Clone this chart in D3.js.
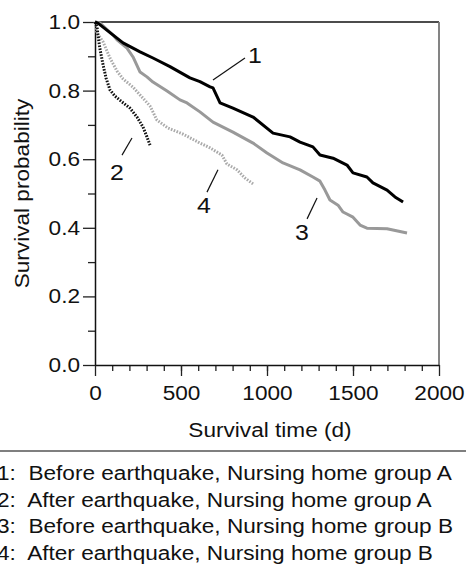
<!DOCTYPE html>
<html>
<head>
<meta charset="utf-8">
<script src="https://cdn.jsdelivr.net/npm/d3@7"></script>
<style>
body { margin: 0; background: #fff; }
svg { display: block; font-family: "Liberation Sans", Arial, sans-serif; }
.legend text { white-space: pre; }
</style>
</head>
<body>
<svg width="466" height="571"></svg>
<script>
// curve 1: before earthquake, group A (black solid)
var days1 = [0, 19, 163, 262, 337, 436, 552, 610, 669, 686, 727, 802, 919, 1035, 1134, 1192, 1267, 1308, 1384, 1465, 1500, 1581, 1616, 1698, 1744, 1791];
var surv1 = [1.0, 0.996, 0.939, 0.913, 0.895, 0.870, 0.837, 0.826, 0.811, 0.808, 0.764, 0.749, 0.723, 0.676, 0.665, 0.650, 0.636, 0.612, 0.603, 0.583, 0.560, 0.548, 0.531, 0.510, 0.490, 0.475];

// curve 2: after earthquake, group A (black dotted)
var days2 = [0, 12, 17, 29, 47, 64, 87, 116, 157, 203, 244, 279, 302, 320];
var surv2 = [1.0, 0.985, 0.962, 0.921, 0.875, 0.837, 0.802, 0.784, 0.767, 0.749, 0.723, 0.694, 0.665, 0.641];

// curve 3: before earthquake, group B (grey solid)
var days3 = [0, 29, 105, 128, 186, 221, 262, 302, 337, 419, 494, 535, 610, 686, 802, 919, 1000, 1093, 1192, 1267, 1308, 1337, 1366, 1413, 1442, 1500, 1541, 1581, 1698, 1814];
var surv3 = [1.0, 0.997, 0.962, 0.948, 0.924, 0.898, 0.854, 0.840, 0.825, 0.799, 0.773, 0.764, 0.738, 0.708, 0.679, 0.647, 0.618, 0.589, 0.569, 0.548, 0.536, 0.510, 0.481, 0.466, 0.446, 0.431, 0.408, 0.399, 0.397, 0.385];

// curve 4: after earthquake, group B (light grey dotted)
var days4 = [0, 12, 47, 87, 128, 163, 221, 279, 320, 360, 424, 512, 599, 669, 738, 767, 826, 872, 919];
var surv4 = [1.0, 0.968, 0.942, 0.895, 0.857, 0.834, 0.810, 0.778, 0.755, 0.714, 0.691, 0.673, 0.650, 0.633, 0.612, 0.586, 0.569, 0.545, 0.528];

var curveNames = ["1", "2", "3", "4"];
var legendLabels = [
  "1:  Before earthquake, Nursing home group A",
  "2:  After earthquake, Nursing home group A",
  "3:  Before earthquake, Nursing home group B",
  "4:  After earthquake, Nursing home group B"
];
var xTicks = [0, 500, 1000, 1500, 2000];
var yTicks = [0, 0.2, 0.4, 0.6, 0.8, 1.0];
var xTitle = "Survival time (d)";
var yTitle = "Survival probability";

// label anchor (days, surv) and leader line ends
var labelAt = [[930, 0.880], [128, 0.539], [1203, 0.364], [634, 0.443]];
var leaderFrom = [[686, 0.831], [157, 0.612], [1233, 0.426], [651, 0.504]];
var leaderTo = [[872, 0.895], [215, 0.662], [1291, 0.487], [715, 0.569]];

var svg = d3.select("svg"),
    plotLeft = 95, plotRight = 439, plotTop = 22, plotBottom = 365,
    stretchK = 1.13;

var x = d3.scaleLinear().domain([0, 2000]).range([plotLeft, plotRight]);
var y = d3.scaleLinear().domain([0, 1]).range([plotBottom, plotTop]);

function stretch(sel) {
  sel.each(function() {
    var len = this.getComputedTextLength();
    d3.select(this).attr("textLength", len * stretchK).attr("lengthAdjust", "spacingAndGlyphs");
  });
}

// frame top / right
svg.append("line").attr("x1", plotLeft).attr("x2", plotRight).attr("y1", plotTop).attr("y2", plotTop)
    .attr("stroke", "#111").attr("stroke-width", 1.5);
svg.append("line").attr("x1", plotRight).attr("x2", plotRight).attr("y1", plotTop).attr("y2", plotBottom)
    .attr("stroke", "#777").attr("stroke-width", 1.8);

// minor ticks
svg.append("g").attr("transform", "translate(0," + plotBottom + ")")
    .call(d3.axisBottom(x).tickValues(d3.range(100, 2000, 100)).tickSize(6).tickSizeOuter(0).tickFormat(""))
    .call(function(g) { g.select(".domain").remove(); });
svg.append("g").attr("transform", "translate(" + plotLeft + ",0)")
    .call(d3.axisLeft(y).tickValues([0.1, 0.3, 0.5, 0.7, 0.9]).tickSize(7).tickSizeOuter(0).tickFormat(""))
    .call(function(g) { g.select(".domain").remove(); });

// major axes
var xAxis = svg.append("g").attr("transform", "translate(0," + plotBottom + ")")
    .call(d3.axisBottom(x).tickValues(xTicks).tickSize(11).tickSizeOuter(0).tickPadding(10).tickFormat(d3.format("d")));
var yAxis = svg.append("g").attr("transform", "translate(" + plotLeft + ",0)")
    .call(d3.axisLeft(y).tickValues(yTicks).tickSize(12).tickSizeOuter(0).tickPadding(3).tickFormat(d3.format(".1f")));

svg.selectAll(".tick line").attr("stroke", "#222").attr("stroke-width", 1.3);
xAxis.select(".domain").attr("stroke", "#111").attr("stroke-width", 1.5);
yAxis.select(".domain").attr("stroke", "#111").attr("stroke-width", 1.5);
svg.selectAll(".tick text").attr("font-size", 20).attr("font-family", null).attr("fill", "#111");
stretch(svg.selectAll(".tick text"));

// axis titles
svg.append("text").attr("x", 270).attr("y", 437).attr("text-anchor", "middle")
    .attr("font-size", 20).attr("fill", "#111").text(xTitle).call(stretch);
svg.append("text").attr("transform", "translate(28.5,193.5) rotate(-90)").attr("text-anchor", "middle")
    .attr("font-size", 20).attr("fill", "#111").text(yTitle).call(stretch);

// curves
var curves = [
  {days: days1, surv: surv1, color: "#000", dash: null},
  {days: days2, surv: surv2, color: "#111", dash: "1.6,1.4"},
  {days: days3, surv: surv3, color: "#999", dash: null},
  {days: days4, surv: surv4, color: "#aaa", dash: "1.6,1.4"}
];

var line = d3.line()
    .x(function(d) { return x(d[0]); })
    .y(function(d) { return y(d[1]); });

// draw grey ones first so black sits on top
[3, 2, 1, 0].forEach(function(i) {
  var c = curves[i];
  svg.append("path")
      .datum(d3.zip(c.days, c.surv))
      .attr("fill", "none")
      .attr("stroke", c.color)
      .attr("stroke-width", 3)
      .attr("stroke-linejoin", "round")
      .attr("stroke-dasharray", c.dash)
      .attr("d", line);
});

// curve labels with leaders
curveNames.forEach(function(name, i) {
  svg.append("line")
      .attr("x1", x(leaderFrom[i][0])).attr("y1", y(leaderFrom[i][1]))
      .attr("x2", x(leaderTo[i][0])).attr("y2", y(leaderTo[i][1]))
      .attr("stroke", "#111").attr("stroke-width", 1.2);
  svg.append("text")
      .attr("x", x(labelAt[i][0])).attr("y", y(labelAt[i][1]))
      .attr("text-anchor", "middle").attr("font-size", 22).attr("fill", "#111")
      .text(name).call(stretch);
});

// legend
svg.append("line").attr("x1", 0).attr("x2", 466).attr("y1", 451).attr("y2", 451)
    .attr("stroke", "#555").attr("stroke-width", 1.5);
var legend = svg.append("g").attr("class", "legend");
legend.selectAll("text")
    .data(legendLabels)
  .enter().append("text")
    .attr("x", -3)
    .attr("y", function(d, i) { return 480 + i * 26.5; })
    .attr("font-size", 20)
    .attr("fill", "#111")
    .text(function(d) { return d; })
    .call(stretch);
</script>
</body>
</html>
